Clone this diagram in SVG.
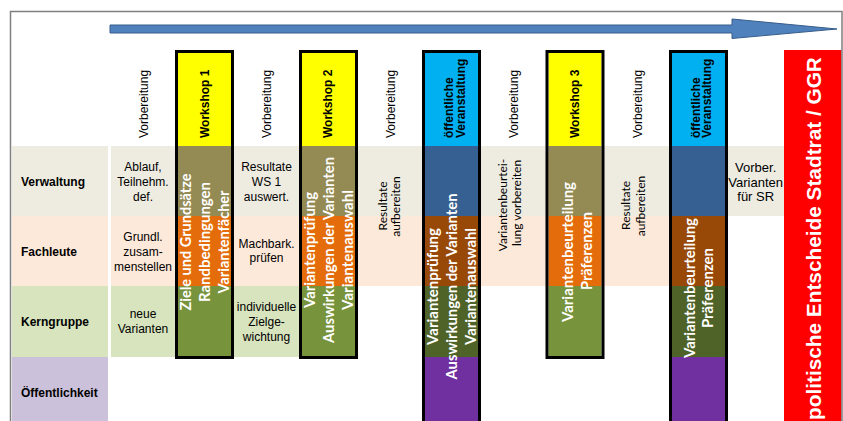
<svg xmlns="http://www.w3.org/2000/svg" width="843" height="421" viewBox="0 0 843 421">
<style>
.lbl{font-family:"Liberation Sans",Arial,sans-serif;font-size:12px;font-weight:bold;fill:#000}
.bt{font-family:"Liberation Sans",Arial,sans-serif;font-size:12px;fill:#000;text-anchor:middle}
.bt13{font-family:"Liberation Sans",Arial,sans-serif;font-size:13px;fill:#000;text-anchor:middle}
.hd{font-family:"Liberation Sans",Arial,sans-serif;font-size:12px;fill:#000}
.hdb{font-family:"Liberation Sans",Arial,sans-serif;font-size:12px;font-weight:bold;fill:#000}
.wt{font-family:Lato,"Open Sans",sans-serif;font-size:15px;font-weight:bold;fill:#fff;text-anchor:middle}
.sm{font-family:Lato,"Open Sans",sans-serif;font-size:12px;fill:#000;text-anchor:middle}
.red{font-family:"Liberation Sans",Arial,sans-serif;font-size:20.8px;font-weight:bold;fill:#fff}
.box{fill:none;stroke:#000;stroke-width:3}
</style>
<rect width="843" height="421" fill="#fff"/>
<g id="bands">
<rect x="111" y="146" width="673" height="70" fill="#EEECE1"/>
<rect x="111" y="216" width="559" height="70" fill="#FDE9D9"/>
<rect x="111" y="286" width="188" height="71" fill="#D7E4BD"/>
</g>
<g id="row-verwaltung"><rect x="12" y="146" width="96" height="70" fill="#EEECE1"/><text class="lbl" x="21" y="186">Verwaltung</text></g>
<g id="row-fachleute"><rect x="12" y="216" width="96" height="70" fill="#FDE9D9"/><text class="lbl" x="21" y="256">Fachleute</text></g>
<g id="row-kerngruppe"><rect x="12" y="286" width="96" height="71" fill="#D7E4BD"/><text class="lbl" x="21" y="326">Kerngruppe</text></g>
<g id="row-oeffentlichkeit"><rect x="12" y="357" width="96" height="70" fill="#CCC1DA"/><text class="lbl" x="21" y="397">Öffentlichkeit</text></g>

<g id="col1-vorbereitung">
<text class="hd" transform="translate(147.5,138) rotate(-90)">Vorbereitung</text>
<text class="bt" x="143" y="171">Ablauf,</text><text class="bt" x="143" y="185.5">Teilnehm.</text><text class="bt" x="143" y="200.5">def.</text>
<text class="bt" x="143" y="240.5">Grundl.</text><text class="bt" x="143" y="256">zusam-</text><text class="bt" x="143" y="271">menstellen</text>
<text class="bt" x="143" y="318">neue</text><text class="bt" x="143" y="333">Varianten</text>
</g>
<g id="col2-workshop1">
<rect x="178" y="53" width="53" height="93" fill="#FFFF00"/>
<rect x="178" y="146" width="53" height="70" fill="#948A54"/>
<rect x="178" y="216" width="53" height="70" fill="#E46C0A"/>
<rect x="178" y="286" width="53" height="71" fill="#77933C"/>
<rect class="box" x="176.5" y="51.5" width="56" height="306"/>
<text class="hdb" transform="translate(209.3,138) rotate(-90)">Workshop 1</text>
<text class="wt" transform="translate(190.5,242) rotate(-90)" textLength="137" lengthAdjust="spacingAndGlyphs">Ziele und Grundsätze</text>
<text class="wt" transform="translate(210,242) rotate(-90)" textLength="120" lengthAdjust="spacingAndGlyphs">Randbedingungen</text>
<text class="wt" transform="translate(228.5,242) rotate(-90)" textLength="103" lengthAdjust="spacingAndGlyphs">Variantenfächer</text>
</g>
<g id="col3-vorbereitung">
<text class="hd" transform="translate(271,138) rotate(-90)">Vorbereitung</text>
<text class="bt" x="266.5" y="171">Resultate</text><text class="bt" x="266.5" y="186">WS 1</text><text class="bt" x="266.5" y="201">auswert.</text>
<text class="bt" x="266.5" y="248">Machbark.</text><text class="bt" x="266.5" y="262">prüfen</text>
<text class="bt" x="266.5" y="311">individuelle</text><text class="bt" x="266.5" y="326">Zielge-</text><text class="bt" x="266.5" y="341">wichtung</text>
</g>
<g id="col4-workshop2">
<rect x="302" y="53" width="53" height="93" fill="#FFFF00"/>
<rect x="302" y="146" width="53" height="70" fill="#948A54"/>
<rect x="302" y="216" width="53" height="70" fill="#E46C0A"/>
<rect x="302" y="286" width="53" height="71" fill="#77933C"/>
<rect class="box" x="300.5" y="51.5" width="56" height="306"/>
<text class="hdb" transform="translate(332,138) rotate(-90)">Workshop 2</text>
<text class="wt" transform="translate(315,250) rotate(-90)" textLength="116" lengthAdjust="spacingAndGlyphs">Variantenprüfung</text>
<text class="wt" transform="translate(333.5,250) rotate(-90)" textLength="186" lengthAdjust="spacingAndGlyphs">Auswirkungen der Varianten</text>
<text class="wt" transform="translate(353,250) rotate(-90)" textLength="120" lengthAdjust="spacingAndGlyphs">Variantenauswahl</text>
</g>
<g id="col5-vorbereitung">
<text class="hd" transform="translate(395,138) rotate(-90)">Vorbereitung</text>
<text class="sm" transform="translate(386.5,206) rotate(-90)">Resultate</text>
<text class="sm" transform="translate(400,206.5) rotate(-90)">aufbereiten</text>
</g>
<g id="col6-veranstaltung1">
<rect x="425" y="53" width="53" height="93" fill="#00B0F0"/>
<rect x="425" y="146" width="53" height="70" fill="#376092"/>
<rect x="425" y="216" width="53" height="70" fill="#984807"/>
<rect x="425" y="286" width="53" height="71" fill="#4F6228"/>
<rect x="425" y="357" width="53" height="70" fill="#7030A0"/>
<rect class="box" x="423.5" y="51.5" width="56" height="400"/>
<text class="hdb" transform="translate(453,138) rotate(-90)">öffentliche</text>
<text class="hdb" transform="translate(464.5,138) rotate(-90)">Veranstaltung</text>
<text class="wt" transform="translate(438,286.5) rotate(-90)" textLength="117" lengthAdjust="spacingAndGlyphs">Variantenprüfung</text>
<text class="wt" transform="translate(457,286.5) rotate(-90)" textLength="186" lengthAdjust="spacingAndGlyphs">Auswirkungen der Varianten</text>
<text class="wt" transform="translate(475.5,286.5) rotate(-90)" textLength="117" lengthAdjust="spacingAndGlyphs">Variantenauswahl</text>
</g>
<g id="col7-vorbereitung">
<text class="hd" transform="translate(518,138) rotate(-90)">Vorbereitung</text>
<text class="sm" transform="translate(506.5,205) rotate(-90)">Variantenbeurtei-</text>
<text class="sm" transform="translate(520.5,203) rotate(-90)">lung vorbereiten</text>
</g>
<g id="col8-workshop3">
<rect x="548.5" y="53" width="53" height="93" fill="#FFFF00"/>
<rect x="548.5" y="146" width="53" height="70" fill="#948A54"/>
<rect x="548.5" y="216" width="53" height="70" fill="#E46C0A"/>
<rect x="548.5" y="286" width="53" height="71" fill="#77933C"/>
<rect class="box" x="547" y="51.5" width="56" height="306"/>
<text class="hdb" transform="translate(579,138) rotate(-90)">Workshop 3</text>
<text class="wt" transform="translate(573,252) rotate(-90)" textLength="140" lengthAdjust="spacingAndGlyphs">Variantenbeurteilung</text>
<text class="wt" transform="translate(591.5,251) rotate(-90)" textLength="78" lengthAdjust="spacingAndGlyphs">Präferenzen</text>
</g>
<g id="col9-vorbereitung">
<text class="hd" transform="translate(642,138) rotate(-90)">Vorbereitung</text>
<text class="sm" transform="translate(630,205.5) rotate(-90)">Resultate</text>
<text class="sm" transform="translate(645,206) rotate(-90)">aufbereiten</text>
</g>
<g id="col10-veranstaltung2">
<rect x="672" y="53" width="53" height="93" fill="#00B0F0"/>
<rect x="672" y="146" width="53" height="70" fill="#376092"/>
<rect x="672" y="216" width="53" height="70" fill="#984807"/>
<rect x="672" y="286" width="53" height="71" fill="#4F6228"/>
<rect x="672" y="357" width="53" height="70" fill="#7030A0"/>
<rect class="box" x="670.5" y="51.5" width="56" height="400"/>
<text class="hdb" transform="translate(699.5,138) rotate(-90)">öffentliche</text>
<text class="hdb" transform="translate(711,138) rotate(-90)">Veranstaltung</text>
<text class="wt" transform="translate(695,288) rotate(-90)" textLength="140" lengthAdjust="spacingAndGlyphs">Variantenbeurteilung</text>
<text class="wt" transform="translate(713,288) rotate(-90)" textLength="80" lengthAdjust="spacingAndGlyphs">Präferenzen</text>
</g>
<g id="col11-vorbereitung">
<text class="bt13" x="755.7" y="172">Vorber.</text><text class="bt13" x="755.7" y="187">Varianten</text><text class="bt13" x="755.7" y="201">für SR</text>
</g>
<g id="col12-entscheid">
<rect x="784" y="50" width="57.5" height="371" fill="#FF0000"/>
<text class="red" transform="translate(821,420) rotate(-90)">politische Entscheide Stadtrat / GGR</text>
</g>
<g id="connectors">
<polygon points="110,25 732,25 732,19 837,29 732,38.5 732,33 110,33" fill="#4F81BD" stroke="#385D8A" stroke-width="1"/>
</g>
<g id="frame">
<path d="M10.5,425 V11.5 H842 V425" fill="none" stroke="#7F7F7F" stroke-width="1.5"/>
</g>
</svg>
